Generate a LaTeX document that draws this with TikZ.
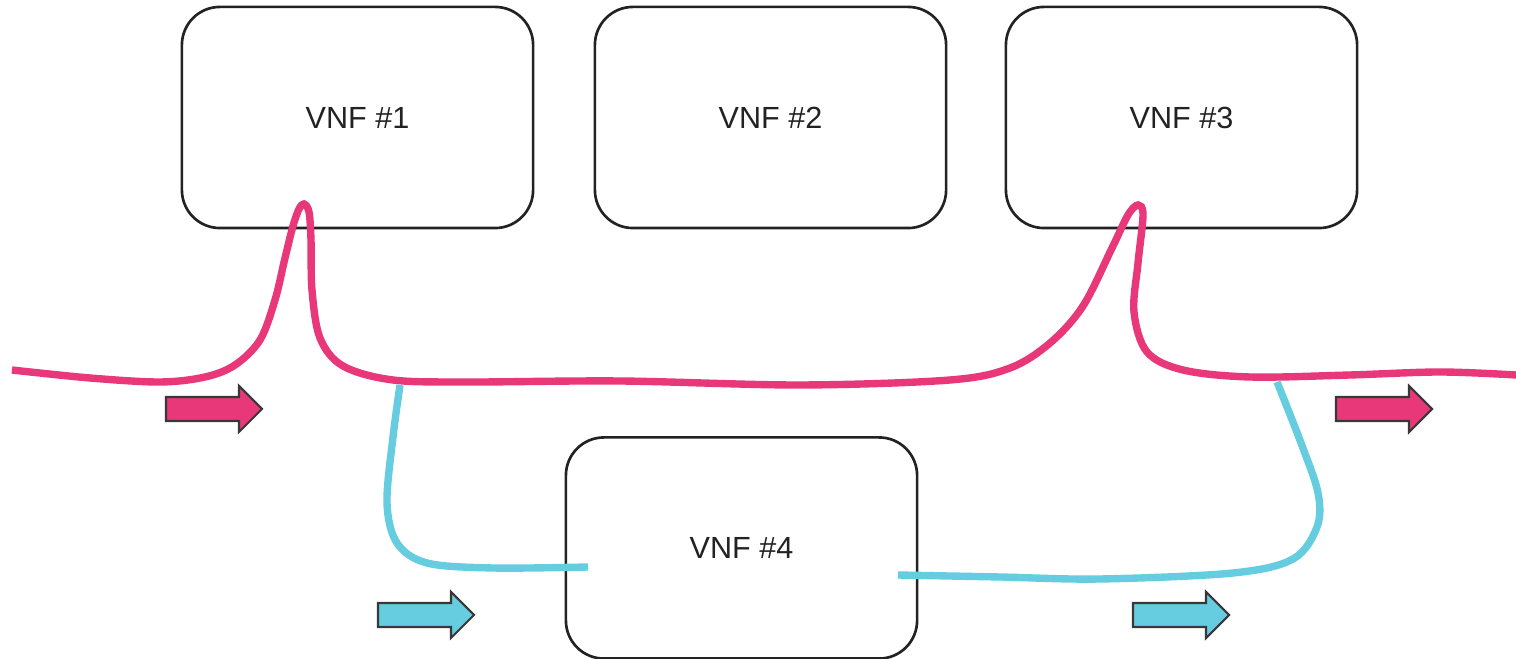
\documentclass[tikz,border=0pt]{standalone}
\usepackage{fontspec}
\setmainfont{Liberation Sans}
\definecolor{pinkc}{RGB}{232,56,122}
\definecolor{cyanc}{RGB}{102,204,224}
\definecolor{edgec}{RGB}{34,34,34}
\begin{document}
\begin{tikzpicture}[x=0.01cm,y=-0.01cm,
  vnf/.style={draw=edgec, line width=0.75pt, rounded corners=0.38cm, minimum width=3.51cm, minimum height=2.21cm, inner sep=0pt, font=\fontsize{8.7}{10}\selectfont, text=edgec},
  pinkline/.style={draw=pinkc, line width=2.1pt},
  cyanline/.style={draw=cyanc, line width=2.1pt},
  pics/blockarrow/.style={code={\draw[draw=edgec!90, line width=0.6pt, fill=#1, line join=miter]
    (0,-12) -- (73,-12) -- (73,-23) -- (96,0) -- (73,23) -- (73,12) -- (0,12) -- cycle;}}]
\useasboundingbox (0,0) rectangle (1516,659);

\node[vnf] (v1) at (357.5,117.5) {VNF \#1};
\node[vnf] (v2) at (770.5,117.5) {VNF \#2};
\node[vnf] (v3) at (1181.5,117.5) {VNF \#3};
\node[vnf, fill=white] (v4) at (741.5,548) {VNF \#4};

\coordinate (pinkin) at (12,370);
\coordinate (pinkout) at (1516,375);
\coordinate (br1) at (400,385);
\coordinate (br2) at (1277,382);
\coordinate (v4in) at (588,567);
\coordinate (v4out) at (898,575);

% pink flow
\draw[pinkline] plot[smooth, tension=0.55] coordinates {
 (pinkin) (90,378) (160,382) (205,377) (235,365) (260,340) (275,300) (285,258) (293,226) (299,209) (304,204) (309,212) (311,240) (312,290) (320,338) (343,366) (393,380) (470,382) (620,381) (800,385) (950,380) (1010,368) (1050,343) (1083,306) (1112,248) (1128,215) (1138,205) (1143,215) (1138,263) (1134,312) (1147,352) (1183,370) (1250,377) (1350,375) (1440,372) (pinkout)};

% cyan flows
\draw[cyanline] plot[smooth, tension=0.55] coordinates {
 (br1) (393,437) (387,503) (397,543) (427,563) (493,568) (v4in)};
\draw[cyanline] plot[smooth, tension=0.55] coordinates {
 (v4out) (1000,577) (1100,579) (1233,573) (1293,559) (1317,527) (1318,493) (1301,443) (br2)};

% direction arrows
\pic at (166,409) {blockarrow=pinkc};
\pic at (1336,409) {blockarrow=pinkc};
\pic at (378,615) {blockarrow=cyanc};
\pic at (1133,615) {blockarrow=cyanc};
\end{tikzpicture}
\end{document}
